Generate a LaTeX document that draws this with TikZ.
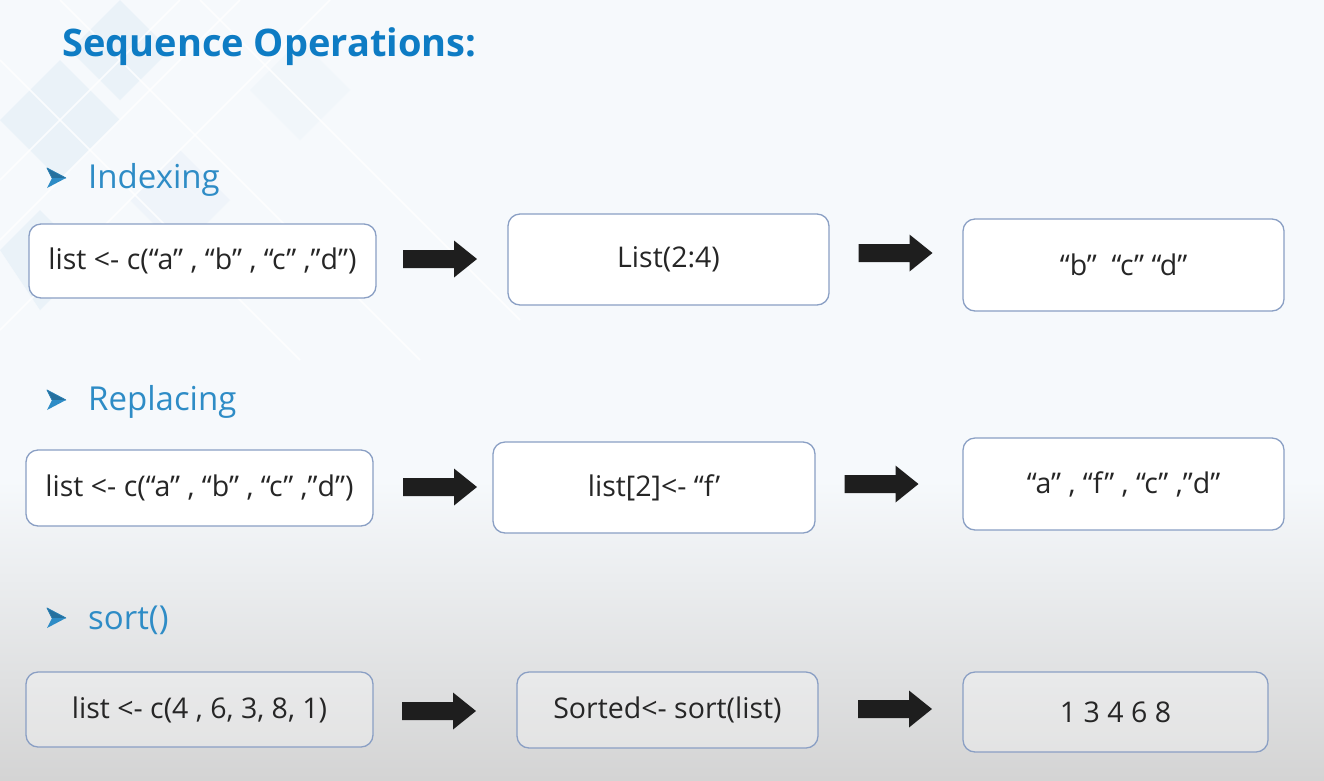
\documentclass[tikz,border=0pt]{standalone}
\usepackage{fontspec}
\setmainfont{Open Sans}
\definecolor{titleblue}{HTML}{0E7CC4}
\definecolor{headblue}{HTML}{2E8CC6}
\definecolor{boxline}{HTML}{8A9FC4}
\definecolor{ink}{HTML}{262626}
\definecolor{arrowink}{HTML}{1E1E1E}
\definecolor{paleblue}{HTML}{DDEAF5}
\definecolor{bgtop}{HTML}{F6F9FC}
\definecolor{bgbottom}{HTML}{D4D4D4}

\begin{document}
\begin{tikzpicture}[x=1pt,y=-1pt,
  codebox/.style={draw=boxline, line width=1.3pt, rounded corners=12pt,
    fill=white, inner sep=0pt, text=ink, font=\fontsize{28.5}{33}\selectfont},
  greybox/.style={codebox, fill=white, fill opacity=0.3, text opacity=1},
  heading/.style={text=headblue, font=\fontsize{33}{38}\selectfont,
    anchor=west, inner sep=0pt},
  title/.style={text=titleblue, font=\bfseries\fontsize{38}{44}\selectfont,
    anchor=west, inner sep=0pt},
  blockarrow/.pic={
    \fill[arrowink] (-37,-9) -- (14,-9) -- (14,-18.5) -- (37,0)
      -- (14,18.5) -- (14,9) -- (-37,9) -- cycle;},
  bulletmark/.pic={
    \fill[headblue!80!black] (10,0) -- (-9,-10) -- (-4,0) -- cycle;
    \draw[headblue!90!black, line width=0.8pt, line join=round]
      (10,0) -- (-9,-10) -- (-4,0);
    \fill[headblue] (10,0) -- (-9,10) -- (-4,0) -- cycle;}]

% page and background
\useasboundingbox (0,0) rectangle (1324,780);
\fill[bgtop] (0,0) rectangle (1324,780);
\shade[top color=bgtop, bottom color=bgbottom] (0,480) rectangle (1324,780);

% light diagonal pattern, top left
\begin{scope}[opacity=0.45]
  \fill[paleblue] (0,120) -- (60,60) -- (120,120) -- (60,180) -- cycle;
  \fill[paleblue] (120,0) -- (170,50) -- (120,100) -- (70,50) -- cycle;
  \fill[paleblue] (0,250) -- (40,210) -- (90,260) -- (40,310) -- cycle;
  \fill[paleblue!70] (180,150) -- (230,200) -- (180,250) -- (130,200) -- cycle;
  \fill[paleblue!60] (300,40) -- (350,90) -- (300,140) -- (250,90) -- cycle;
\end{scope}
\begin{scope}[draw=white, line width=1.6pt, opacity=0.8]
  \draw (0,60) -- (300,360);
  \draw (0,180) -- (180,0);
  \draw (60,0) -- (420,360);
  \draw (0,330) -- (330,0);
  \draw (240,0) -- (0,240);
  \draw (200,0) -- (520,320);
\end{scope}

% title
\node[title] (title) at (62,47) {Sequence Operations:};

% section bullets and headings
\pic at (56,178) {bulletmark};
\pic at (56,400) {bulletmark};
\pic at (56,618) {bulletmark};
\node[heading] (h1) at (88,180) {Indexing};
\node[heading] (h2) at (88,402) {Replacing};
\node[heading] (h3) at (88,620) {sort()};

% indexing row
\node[codebox, minimum width=347pt, minimum height=74pt] (i1) at (202.5,261)
  {list <- c(“a” , “b” , “c” ,”d”)};
\node[codebox, minimum width=321pt, minimum height=91pt] (i2) at (668.5,259.5)
  {List(2:4)};
\node[codebox, minimum width=321pt, minimum height=92pt] (i3) at (1123.5,265)
  {“b”\ \ “c” “d”};
\pic at (440,259) {blockarrow};
\pic at (895.5,253) {blockarrow};

% replacing row
\node[codebox, minimum width=347pt, minimum height=76pt] (r1) at (199.5,488)
  {list <- c(“a” , “b” , “c” ,”d”)};
\node[codebox, minimum width=322pt, minimum height=91pt] (r2) at (654,487.5)
  {list[2]<- “f’};
\node[codebox, minimum width=321pt, minimum height=92pt] (r3) at (1123.5,484)
  {“a” , “f” , “c” ,”d”};
\pic at (440,487) {blockarrow};
\pic at (881.5,484) {blockarrow};

% sort row
\node[greybox, minimum width=347pt, minimum height=75pt] (s1) at (199.5,709.5)
  {list <- c(4 , 6, 3, 8, 1)};
\node[greybox, minimum width=301pt, minimum height=76pt] (s2) at (667.5,710)
  {Sorted<- sort(list)};
\node[greybox, minimum width=305pt, minimum height=80pt] (s3) at (1115.5,712)
  {1 3 4 6 8};
\pic at (439,711) {blockarrow};
\pic at (895,709) {blockarrow};
\end{tikzpicture}
\end{document}
